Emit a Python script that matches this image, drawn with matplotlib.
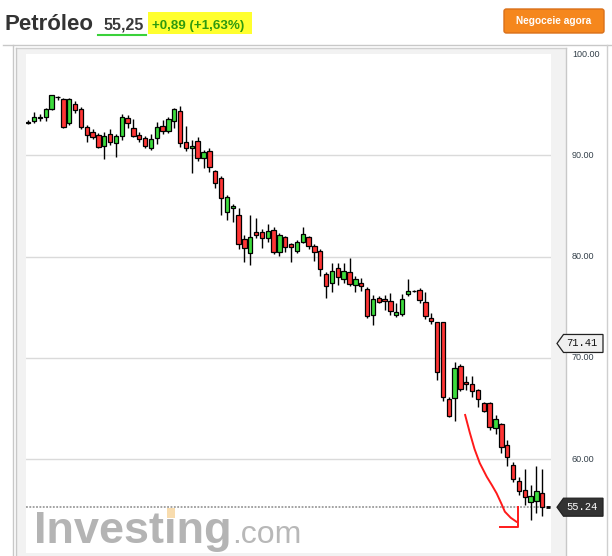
import matplotlib
matplotlib.use('Agg')
import matplotlib.pyplot as plt
import matplotlib.transforms as mtransforms
from matplotlib.patches import Rectangle, Polygon, FancyBboxPatch
from matplotlib.lines import Line2D

# ---------------- data ----------------
opens = [93.20, 93.38, 93.68, 93.74, 94.54, 95.78, 95.55, 93.21, 95.03, 94.54,
         92.82, 92.33, 91.97, 90.91, 92.07, 91.18, 91.93, 93.64, 92.72, 92.00,
         91.67, 90.68, 91.67, 92.85, 92.42, 93.35, 94.34, 91.27, 90.68, 91.37,
         89.76, 90.42, 88.41, 87.72, 84.36, 84.75, 84.09, 81.72, 80.31, 82.44,
         82.44, 81.79, 82.61, 80.40, 81.88, 81.23, 80.57, 81.45, 81.88, 81.03,
         80.57, 78.23, 77.34, 78.82, 77.77, 78.43, 77.17, 77.41, 76.82, 74.25,
         75.93, 75.83, 75.59, 74.21, 74.28, 76.25, 76.60, 76.68, 75.46, 73.88,
         73.49, 73.49, 65.91, 65.98, 69.20, 67.56, 67.36, 66.80, 65.58, 65.58,
         63.11, 63.41, 61.36, 59.39, 57.81, 56.92, 55.77, 55.86, 56.69]
highs = [93.50, 94.30, 94.05, 94.70, 96.00, 95.85, 95.70, 95.70, 95.36, 94.80,
         92.98, 92.56, 92.22, 92.33, 92.56, 92.10, 94.04, 93.97, 93.55, 92.33,
         91.93, 92.07, 93.25, 93.48, 93.80, 94.70, 94.86, 92.92, 91.50, 91.77,
         90.51, 90.68, 88.54, 87.94, 86.07, 85.15, 84.75, 82.11, 84.09, 83.77,
         82.71, 83.20, 82.90, 82.34, 82.04, 81.30, 81.62, 82.87, 82.04, 81.23,
         80.70, 78.49, 79.32, 79.32, 79.38, 79.81, 78.06, 77.86, 76.98, 76.15,
         76.10, 76.15, 76.42, 75.36, 76.28, 77.81, 76.65, 76.91, 76.51, 74.44,
         73.55, 73.55, 66.14, 69.60, 69.34, 68.18, 68.18, 66.96, 65.65, 65.65,
         64.33, 63.57, 61.92, 59.72, 58.23, 59.05, 57.41, 59.29, 58.99]
lows = [93.05, 93.15, 93.38, 93.40, 94.45, 95.50, 92.66, 93.00, 94.14, 92.59,
        91.27, 91.57, 90.68, 89.62, 91.00, 89.80, 91.50, 92.66, 91.83, 91.27,
        90.68, 90.51, 91.10, 92.07, 92.22, 92.72, 90.84, 90.45, 88.20, 89.46,
        88.76, 88.37, 86.79, 84.09, 83.60, 83.44, 80.73, 79.42, 79.14, 81.79,
        80.80, 81.45, 80.20, 80.07, 80.40, 79.42, 80.30, 81.36, 80.73, 79.58,
        78.10, 75.86, 76.45, 77.17, 77.34, 77.08, 76.45, 76.58, 73.95, 73.20,
        75.37, 74.70, 74.21, 74.04, 74.10, 76.09, 76.50, 75.43, 73.79, 73.29,
        67.79, 65.75, 64.17, 63.74, 66.73, 66.80, 66.14, 65.15, 64.65, 62.91,
        62.42, 60.61, 59.29, 57.68, 56.49, 55.43, 54.02, 54.62, 54.35]
closes = [93.25, 93.80, 93.74, 94.54, 95.92, 95.74, 92.82, 95.52, 94.44, 92.79,
          92.00, 91.83, 90.78, 91.90, 91.33, 91.93, 93.74, 93.15, 91.93, 91.57,
          90.91, 91.57, 92.75, 92.42, 93.55, 94.54, 91.18, 90.68, 90.94, 89.70,
          90.29, 88.81, 87.28, 85.74, 85.84, 84.98, 81.20, 80.86, 81.88, 82.11,
          81.85, 82.51, 80.47, 82.11, 80.96, 80.96, 81.39, 82.18, 81.06, 80.47,
          78.73, 77.11, 78.59, 77.93, 78.59, 77.27, 77.81, 77.11, 74.12, 75.76,
          75.50, 75.60, 74.63, 74.47, 75.83, 76.58, 76.55, 75.69, 74.11, 73.65,
          68.55, 66.14, 64.23, 68.94, 66.90, 67.36, 66.73, 65.88, 64.75, 63.17,
          64.00, 61.14, 60.21, 58.07, 56.85, 56.26, 56.32, 56.85, 55.24]

y_ticks = [50, 60, 70, 80, 90, 100]
grid_levels = [60, 70, 80, 90]
marker_high = 71.41
marker_last = 55.24

title_name = "Petróleo"
title_price = "55,25"
title_change = "+0,89 (+1,63%)"
button_label = "Negoceie agora"

# hand-drawn red annotation (candle index, price)
arrow_curve_x = [74.8, 75.6, 76.4, 77.3, 78.5, 79.4, 80.2, 81.0, 81.6, 82.6, 83.6]
arrow_curve_y = [64.35, 62.6, 61.0, 59.6, 58.25, 57.4, 56.6, 55.6, 54.8, 54.2, 53.8]
arrow_corner_x = [83.8, 83.8, 80.8]
arrow_corner_y = [55.26, 53.31, 53.31]

# ---------------- figure ----------------
W, H = 612, 556
fig = plt.figure(figsize=(W / 100, H / 100), dpi=100)
fig.patch.set_facecolor('white')


def fx(x):
    return x / W


def fy(y):
    return 1 - y / H


def frect(x0, y0, x1, y1, **kw):
    r = Rectangle((fx(x0), fy(y1)), (x1 - x0) / W, (y1 - y0) / H,
                  transform=fig.transFigure, **kw)
    fig.add_artist(r)
    return r


def fline(xs, ys, **kw):
    fig.add_artist(Line2D([fx(x) for x in xs], [fy(y) for y in ys],
                          transform=fig.transFigure, **kw))


# chart frame background band
frect(16, 48, 566, 556, facecolor='#f2f2f2', edgecolor='none', zorder=0)
fline([3, 612], [45, 45], color='#c8c8c8', lw=1, zorder=1)
fline([16, 566], [48, 48], color='#d0d0d0', lw=1, zorder=1)
fline([13, 13], [45, 556], color='#c8c8c8', lw=1, zorder=1)
fline([16, 16], [48, 556], color='#c8c8c8', lw=1, zorder=1)
fline([566, 566], [48, 556], color='#c8c8c8', lw=1, zorder=1)
fline([607, 607], [45, 556], color='#cfcfcf', lw=1, zorder=1)

# main axes
ax_left, ax_right, ax_top, ax_bot = 26, 551, 54, 553
ax = fig.add_axes([fx(ax_left), fy(ax_bot), (ax_right - ax_left) / W, (ax_bot - ax_top) / H])
ax.set_facecolor('white')
px_per_unit = 10.125
step = 5.84
x0_px = 28.3
ax.set_xlim((ax_left - x0_px) / step, (ax_right - x0_px) / step)
ax.set_ylim(100 - (ax_bot - 54) / px_per_unit, 100 - (ax_top - 54) / px_per_unit)
for s in ax.spines.values():
    s.set_visible(False)
ax.set_xticks([])
ax.set_yticks([])

for g in grid_levels:
    ax.axhline(g, color='#dadada', lw=1, zorder=1)

ax.axhline(marker_last, color='#8a8a8a', lw=1.1, ls=(0, (1.2, 1.0)), zorder=2)

idx = list(range(len(opens)))
ax.vlines(idx, lows, highs, color='black', lw=1.0, zorder=3)
bottoms = [min(o, c) for o, c in zip(opens, closes)]
heights = [max(abs(c - o), 0.04) for o, c in zip(opens, closes)]
colors = ['#3ddc3d' if c > o else '#ff3535' for o, c in zip(opens, closes)]
ax.bar(idx, heights, bottom=bottoms, width=0.75, color=colors,
       edgecolor='black', linewidth=0.9, zorder=4)

# last price tick
ax.plot([len(opens) - 0.35, len(opens) + 0.35], [marker_last, marker_last],
        color='black', lw=2, zorder=4, solid_capstyle='butt')

# red hand-drawn arrow
ax.plot(arrow_curve_x, arrow_curve_y, color='#ff1a1a', lw=1.4, zorder=5)
ax.plot(arrow_corner_x, arrow_corner_y, color='#ff1a1a', lw=1.4, zorder=5)

# y tick labels on the right
btr = mtransforms.blended_transform_factory(fig.transFigure, ax.transData)
for t in y_ticks:
    fig.text(fx(572), t, f"{t:.2f}", transform=btr, ha='left', va='center',
             fontsize=6.5, color='#34404a', family='Liberation Sans', zorder=2)

# price marker boxes
half = 9 / px_per_unit


def marker(v, face, tcolor):
    pts = [(fx(557), v), (fx(563.5), v + half), (fx(603), v + half),
           (fx(603), v - half), (fx(563.5), v - half)]
    fig.add_artist(Polygon(pts, closed=True, transform=btr, facecolor=face,
                           edgecolor='#222222', lw=0.9, zorder=6))
    fig.text(fx(581.5), v, f"{v:.2f}", transform=btr, ha='center', va='center',
             fontsize=7.5, color=tcolor, family='Liberation Mono', zorder=7)


marker(marker_high, '#f0f0f0', '#111111')
marker(marker_last, '#333333', 'white')

# watermark
fig.text(fx(34), fy(543), "Investing", fontsize=32.5, weight='bold', color='#b4b4b4',
         family='Liberation Sans', va='baseline', ha='left', zorder=8)
fig.text(fx(232), fy(543), ".com", fontsize=23, color='#b8b8b8',
         family='Liberation Sans', va='baseline', ha='left', zorder=8)
frect(167, 508, 175, 518, facecolor='#f8dcae', edgecolor='none', zorder=9)

# header
fig.text(fx(5), fy(30), title_name, fontsize=16, weight='bold', color='#333333',
         family='Liberation Sans', va='baseline', ha='left')
fig.text(fx(104), fy(30), title_price, fontsize=11.5, weight='bold', color='#3a3a3a',
         family='Liberation Sans', va='baseline', ha='left')
fline([98, 146], [35, 35], color='#3ad13a', lw=1.5)
frect(148, 12, 252, 34, facecolor='#ffff2e', edgecolor='none', zorder=1)
fig.text(fx(152), fy(29), title_change, fontsize=9.6, weight='bold', color='#2f9a0f',
         family='Liberation Sans', va='baseline', ha='left', zorder=2)

btn = FancyBboxPatch((fx(504), fy(33)), 100 / W, 24 / H,
                     boxstyle='round,pad=0,rounding_size=0.004',
                     transform=fig.transFigure, facecolor='#f5871d',
                     edgecolor='#d9701a', lw=1, zorder=1)
fig.add_artist(btn)
fig.text(fx(554), fy(21), button_label, fontsize=7.3, weight='bold', color='white',
         family='Liberation Sans', va='center', ha='center', zorder=2)

fig.savefig('out.png', dpi=100)
